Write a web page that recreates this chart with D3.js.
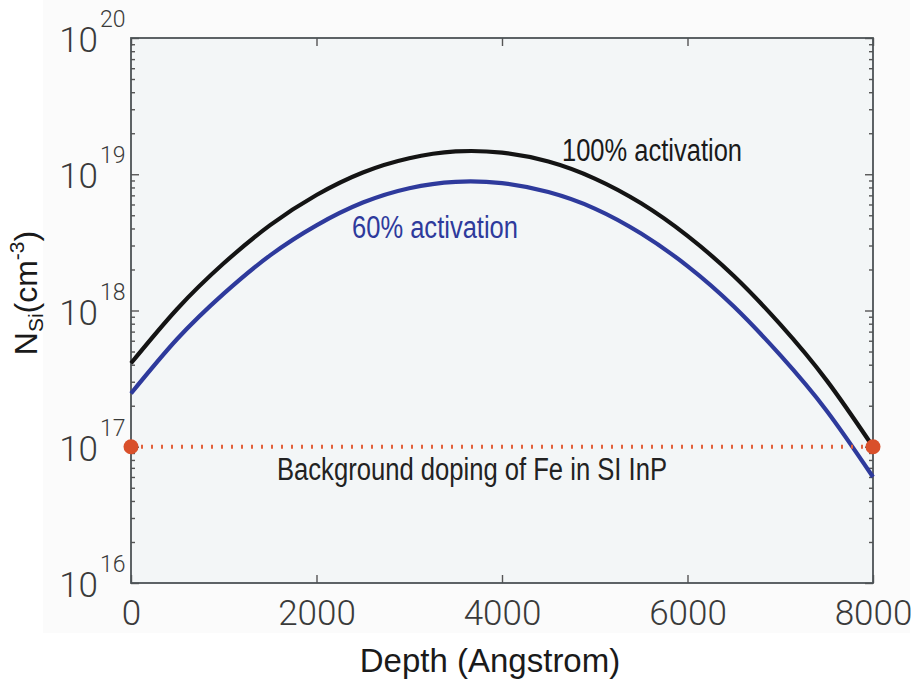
<!DOCTYPE html>
<html>
<head>
<meta charset="utf-8">
<script src="https://cdn.jsdelivr.net/npm/d3@7"></script>
<style>
	html, body { margin: 0; padding: 0; background: #ffffff; }
	svg { display: block; }
</style>
</head>
<body>
<div id="chart"></div>
<script>
// depth in Angstrom, Si concentration in cm^-3
let depth = [0, 500, 1000, 1500, 2000, 2500, 3000, 3500, 4000, 4500, 5000, 5500, 6000, 6500, 7000, 7500, 8000];
let full = [4.1e17, 1.03e18, 2.22e18, 4.23e18, 7.04e18, 1.03e19, 1.31e19, 1.47e19, 1.44e19, 1.24e19, 9.3e18, 6.12e18, 3.53e18, 1.79e18, 7.9e17, 3.07e17, 1.0e17];
let partial = [2.46e17, 6.2e17, 1.33e18, 2.54e18, 4.22e18, 6.2e18, 7.9e18, 8.8e18, 8.6e18, 7.4e18, 5.6e18, 3.67e18, 2.12e18, 1.07e18, 4.7e17, 1.84e17, 6.0e16];
let feDepth = [0, 8000];
let feLevel = [1e17, 1e17];
let xTicks = [0, 2000, 4000, 6000, 8000];
let yDecades = [16, 17, 18, 19, 20];

// plot box (note: "top" is taken by window.top)
let w = 915,
	h = 683,
	pLeft = 131,
	pRight = 873,
	pTop = 38,
	pBottom = 583;

let svg = d3
	.select("#chart")
	.append("svg")
	.attr("width", w)
	.attr("height", h);

// figure background
svg.append("rect")
	.attr("x", 43)
	.attr("y", 0)
	.attr("width", 867)
	.attr("height", 633)
	.attr("fill", "#fbfbfb");

let x = d3.scaleLinear().domain([0, 8000]).range([pLeft, pRight]);
let y = d3.scaleLog().domain([1e16, 1e20]).range([pBottom, pTop]);

svg.append("rect")
	.attr("x", pLeft)
	.attr("y", pTop)
	.attr("width", pRight - pLeft)
	.attr("height", pBottom - pTop)
	.attr("fill", "#f3f6f7");

// minor log ticks
let minor = [];
for (let e = 16; e < 20; e++) {
	for (let m = 2; m <= 9; m++) minor.push(m * Math.pow(10, e));
}
let majors = yDecades.map((e) => Math.pow(10, e));

function styleAxis(g) {
	g.select(".domain").remove();
	g.selectAll("line").attr("stroke", "#555").attr("stroke-width", 1.4);
	g.selectAll("text").remove();
}

svg.append("g").attr("transform", "translate(" + pLeft + ",0)")
	.call(d3.axisLeft(y).tickValues(minor).tickSize(-4)).call(styleAxis);
svg.append("g").attr("transform", "translate(" + pLeft + ",0)")
	.call(d3.axisLeft(y).tickValues(majors).tickSize(-8)).call(styleAxis);
svg.append("g").attr("transform", "translate(" + pRight + ",0)")
	.call(d3.axisRight(y).tickValues(minor).tickSize(-4)).call(styleAxis);
svg.append("g").attr("transform", "translate(" + pRight + ",0)")
	.call(d3.axisRight(y).tickValues(majors).tickSize(-8)).call(styleAxis);
svg.append("g").attr("transform", "translate(0," + pTop + ")")
	.call(d3.axisTop(x).tickValues(xTicks).tickSize(-8)).call(styleAxis);

let xAxis = svg.append("g")
	.attr("transform", "translate(0," + pBottom + ")")
	.call(d3.axisBottom(x).tickValues(xTicks).tickSize(-8).tickPadding(17).tickFormat(d3.format("d")));
xAxis.select(".domain").remove();
xAxis.selectAll("line").attr("stroke", "#555").attr("stroke-width", 1.4);
xAxis.selectAll("text")
	.attr("font-family", "Roboto, 'Liberation Sans', sans-serif")
	.attr("font-weight", 300)
	.attr("font-size", 35)
	.attr("fill", "#3a3a3a");

// frame
svg.append("rect")
	.attr("x", pLeft)
	.attr("y", pTop)
	.attr("width", pRight - pLeft)
	.attr("height", pBottom - pTop)
	.attr("fill", "none")
	.attr("stroke", "#4d5356")
	.attr("stroke-width", 1.8);

// y tick labels 10^n
let yLab = svg.selectAll(".ylab")
	.data(yDecades)
	.enter()
	.append("text")
	.attr("class", "ylab")
	.attr("x", 98)
	.attr("y", (d) => y(Math.pow(10, d)) + 14)
	.attr("text-anchor", "end")
	.attr("font-family", "Roboto, 'Liberation Sans', sans-serif")
	.attr("font-weight", 300)
	.attr("fill", "#3a3a3a");
yLab.append("tspan").attr("font-size", 35).text("10");
yLab.append("tspan")
	.attr("x", 100)
	.attr("dy", -25)
	.attr("text-anchor", "start")
	.attr("font-size", 23)
	.text((d) => d);

let line = d3.line()
	.x((d, i) => x(depth[i]))
	.y((d) => y(d))
	.curve(d3.curveNatural);

svg.append("path")
	.attr("d", line(full))
	.attr("fill", "none")
	.attr("stroke", "#141414")
	.attr("stroke-width", 4.2);

svg.append("path")
	.attr("d", line(partial))
	.attr("fill", "none")
	.attr("stroke", "#2e3a9c")
	.attr("stroke-width", 4.2);

// Fe background level
svg.append("line")
	.attr("x1", x(feDepth[0]) + 10)
	.attr("x2", x(feDepth[1]) - 6)
	.attr("y1", y(feLevel[0]))
	.attr("y2", y(feLevel[1]))
	.attr("stroke", "#e2603a")
	.attr("stroke-width", 4)
	.attr("stroke-dasharray", "2 8");

svg.selectAll(".fe")
	.data(feDepth)
	.enter()
	.append("circle")
	.attr("cx", (d) => x(d))
	.attr("cy", (d, i) => y(feLevel[i]))
	.attr("r", 7.5)
	.attr("fill", "#d9502b");

// condensed annotation text
function note(tx, ty, str, color, len) {
	svg.append("text")
		.attr("x", tx)
		.attr("y", ty)
		.attr("font-family", "'Liberation Sans', Arial, sans-serif")
		.attr("font-size", 31)
		.attr("fill", color)
		.attr("textLength", len)
		.attr("lengthAdjust", "spacingAndGlyphs")
		.text(str);
}
note(562, 161, "100% activation", "#1a1a1a", 180);
note(352, 238, "60% activation", "#2e3a9c", 166);
note(277, 480, "Background doping of Fe in SI InP", "#222222", 390);

// axis titles
svg.append("text")
	.attr("x", 490)
	.attr("y", 672)
	.attr("text-anchor", "middle")
	.attr("font-family", "'Liberation Sans', Arial, sans-serif")
	.attr("font-size", 33)
	.attr("fill", "#1a1a1a")
	.text("Depth (Angstrom)");

let yt = svg.append("text")
	.attr("transform", "translate(37,293) rotate(-90)")
	.attr("text-anchor", "middle")
	.attr("font-family", "'Liberation Sans', Arial, sans-serif")
	.attr("font-size", 32)
	.attr("fill", "#1a1a1a");
yt.append("tspan").text("N");
yt.append("tspan").attr("font-size", 21).attr("dy", 6).text("Si");
yt.append("tspan").attr("dy", -6).text("(cm");
yt.append("tspan").attr("font-size", 21).attr("dy", -13).text("-3");
yt.append("tspan").attr("dy", 13).text(")");
</script>
</body>
</html>
